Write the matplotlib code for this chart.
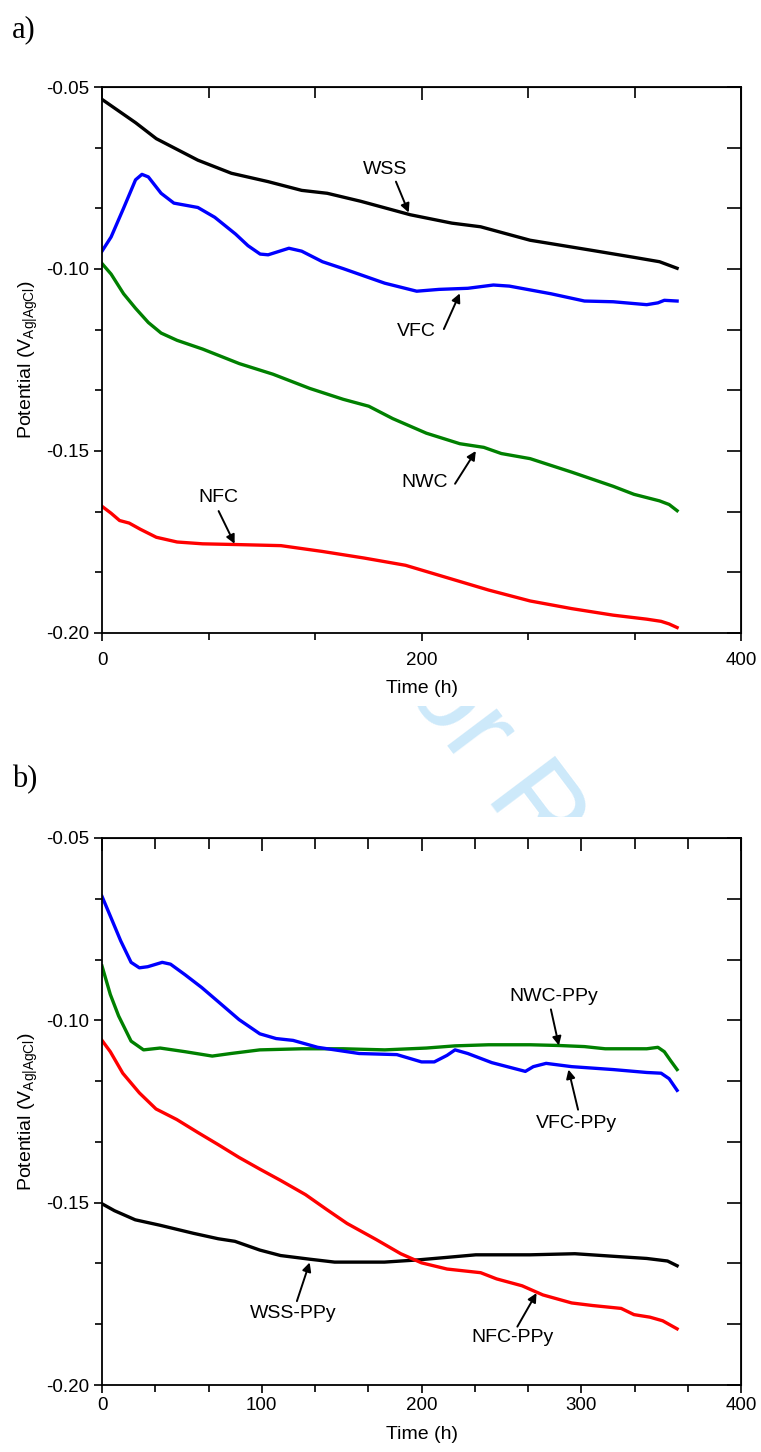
import matplotlib
matplotlib.use("Agg")
import matplotlib.pyplot as plt
from matplotlib.ticker import MultipleLocator, AutoMinorLocator, FormatStrFormatter
from matplotlib.transforms import Bbox, TransformedBbox

plt.rcParams['font.family'] = ['Liberation Sans', 'DejaVu Sans']
plt.rcParams['mathtext.default'] = 'regular'
plt.rcParams['axes.unicode_minus'] = False

# ---- panel a) data (time in h, potential in V vs Ag|AgCl)
wss_t = [0, 21, 34, 60, 81, 104, 125, 141, 162, 193, 219, 237, 268, 307, 333, 349, 360]
wss_v = [-0.0534, -0.0598, -0.0642, -0.0701, -0.0737, -0.0760, -0.0784, -0.0792, -0.0814,
         -0.0851, -0.0874, -0.0884, -0.0921, -0.0949, -0.0968, -0.0980, -0.0998]

vfc_t = [0, 5.7, 13.5, 21, 25, 29, 37, 45, 52.5, 60, 70.6, 83.6, 91.4, 99, 104, 117, 125, 138,
         151, 177, 197, 211, 229, 245, 255, 281, 302, 320, 341, 348, 352, 360]
vfc_v = [-0.0951, -0.0912, -0.0833, -0.0755, -0.0740, -0.0747, -0.0792, -0.0819, -0.0825,
         -0.0831, -0.0858, -0.0904, -0.0936, -0.0959, -0.0961, -0.0943, -0.0951, -0.0980,
         -0.0999, -0.1039, -0.1061, -0.1056, -0.1053, -0.1044, -0.1047, -0.1068, -0.1088,
         -0.1090, -0.1098, -0.1093, -0.1086, -0.1088]

nwc_t = [0, 5.7, 13.5, 21, 29, 37, 47, 63, 86, 107, 130, 151, 167, 182, 203, 224, 239, 250,
         268, 294, 320, 333, 349, 355, 360]
nwc_v = [-0.0985, -0.1014, -0.1068, -0.1108, -0.1147, -0.1176, -0.1196, -0.1220, -0.1260,
         -0.1289, -0.1328, -0.1358, -0.1377, -0.1411, -0.1451, -0.1480, -0.1490, -0.1507,
         -0.1521, -0.1558, -0.1597, -0.1619, -0.1637, -0.1647, -0.1664]

nfc_t = [0, 5.7, 11, 17, 24, 34, 47, 63, 84, 112, 138, 164, 190, 216, 242, 268, 294, 320,
         341, 350, 355, 360]
nfc_v = [-0.1652, -0.1671, -0.1691, -0.1698, -0.1715, -0.1737, -0.1750, -0.1755, -0.1757,
         -0.1760, -0.1776, -0.1794, -0.1814, -0.1848, -0.1882, -0.1912, -0.1933, -0.1951,
         -0.1962, -0.1968, -0.1975, -0.1985]

# ---- panel b) data (PPy coated)
vfcp_t = [0, 5.2, 11.7, 18.2, 23.4, 28.6, 37.7, 42.9, 52, 62.4, 72.8, 85.8, 98.8, 109, 119.6,
          135, 161, 184.6, 200, 208, 216, 221, 229, 244, 265, 270, 278, 294, 320, 341, 350,
          355, 360]
vfcp_v = [-0.0660, -0.0714, -0.0782, -0.0841, -0.0856, -0.0853, -0.0841, -0.0846, -0.0875,
          -0.0910, -0.0949, -0.0998, -0.1037, -0.1050, -0.1055, -0.1074, -0.1091, -0.1094,
          -0.1114, -0.1114, -0.1096, -0.1081, -0.1091, -0.1116, -0.1140, -0.1127, -0.1118,
          -0.1127, -0.1135, -0.1143, -0.1145, -0.1160, -0.1192]

nwcp_t = [0, 5.2, 10.4, 18.2, 26, 36.4, 52, 69, 80.6, 98.8, 125, 151, 177, 203, 221, 242,
          268, 286, 302, 315, 341, 348, 352, 356, 360]
nwcp_v = [-0.0851, -0.0929, -0.0988, -0.1057, -0.1081, -0.1076, -0.1086, -0.1098, -0.1091,
          -0.1081, -0.1078, -0.1078, -0.1081, -0.1076, -0.1070, -0.1067, -0.1067, -0.1069,
          -0.1072, -0.1078, -0.1078, -0.1074, -0.1086, -0.1111, -0.1135]

nfcp_t = [0, 5.2, 13, 23.4, 33.8, 46.8, 59.8, 72.8, 85.8, 98.8, 111.8, 127.4, 140.4, 153.4,
          171.6, 187, 200, 216, 237, 247, 263, 276, 294, 307, 325, 333, 343, 351, 360]
nfcp_v = [-0.1055, -0.1086, -0.1145, -0.1199, -0.1243, -0.1272, -0.1307, -0.1341, -0.1376,
          -0.1408, -0.1439, -0.1478, -0.1518, -0.1557, -0.1601, -0.1640, -0.1665, -0.1682,
          -0.1692, -0.1709, -0.1728, -0.1753, -0.1775, -0.1782, -0.1790, -0.1807, -0.1814,
          -0.1824, -0.1846]

wssp_t = [0, 7.8, 20.8, 36.4, 57.2, 72.8, 83.2, 98.8, 111.8, 130, 145.6, 176.8, 197.6, 216,
          234, 268, 296, 320, 341, 354, 360]
wssp_v = [-0.1503, -0.1522, -0.1547, -0.1562, -0.1584, -0.1599, -0.1606, -0.1630, -0.1645,
          -0.1655, -0.1663, -0.1663, -0.1657, -0.1650, -0.1643, -0.1643, -0.1640, -0.1647,
          -0.1653, -0.1660, -0.1673]

# labels: text, text position, arrow tail, arrow tip
labels_a = [
    ('WSS', (177, -0.0726), (184, -0.0760), (192, -0.0845)),
    ('VFC', (197, -0.1172), (214, -0.1165), (224, -0.1067)),
    ('NWC', (202, -0.1586), (221, -0.1590), (234, -0.1500)),
    ('NFC', (73, -0.1627), (73, -0.1665), (83, -0.1755)),
]
labels_b = [
    ('NWC-PPy', (283, -0.0934), (281, -0.0970), (286, -0.1069)),
    ('VFC-PPy', (297, -0.1282), (298, -0.1245), (292, -0.1135)),
    ('WSS-PPy', (120, -0.1804), (122, -0.1770), (130, -0.1664)),
    ('NFC-PPy', (257, -0.1871), (260, -0.1840), (272, -0.1748)),
]

fig = plt.figure(figsize=(7.61, 14.52), dpi=100)

# watermark, only visible in the gap between the two panels
wm = fig.text(360 / 761, 1 - 630 / 1452, 'For Review', fontsize=84, color='#cde9fa',
              rotation=-53, rotation_mode='anchor', ha='left', va='baseline', zorder=0,
              clip_on=True)
wm.set_clip_box(TransformedBbox(Bbox.from_extents(0, 1 - 817 / 1452, 1, 1 - 706 / 1452),
                                fig.transFigure))


def setup_axes(ax, xmajor, xpad, xlabelpad):
    ax.set_xlim(0, 400)
    ax.set_ylim(-0.20, -0.05)
    ax.xaxis.set_major_locator(MultipleLocator(xmajor))
    ax.xaxis.set_minor_locator(AutoMinorLocator(3))
    ax.yaxis.set_major_locator(MultipleLocator(0.05))
    ax.yaxis.set_minor_locator(AutoMinorLocator(3))
    ax.yaxis.set_major_formatter(FormatStrFormatter('%.2f'))
    ax.tick_params(which='both', direction='out', width=1.2, labelsize=13.5)
    ax.tick_params(which='major', length=6)
    ax.tick_params(which='minor', length=5)
    ax.tick_params(axis='x', pad=xpad)
    for s in ax.spines.values():
        s.set_linewidth(1.3)
    top = ax.secondary_xaxis('top')
    top.xaxis.set_major_locator(MultipleLocator(xmajor))
    top.xaxis.set_minor_locator(AutoMinorLocator(3))
    top.tick_params(which='both', direction='in', width=1.2, labeltop=False)
    top.tick_params(which='major', length=9)
    top.tick_params(which='minor', length=8)
    right = ax.secondary_yaxis('right')
    right.yaxis.set_major_locator(MultipleLocator(0.05))
    right.yaxis.set_minor_locator(AutoMinorLocator(3))
    right.tick_params(which='both', direction='in', width=1.2, labelright=False)
    right.tick_params(which='major', length=10)
    right.tick_params(which='minor', length=10)
    ax.set_xlabel('Time (h)', fontsize=14, labelpad=xlabelpad)
    ax.set_ylabel('Potential (V$_{Ag|AgCl}$)', fontsize=14, labelpad=4)


def add_labels(ax, labels):
    for txt, pos, tail, tip in labels:
        ax.text(pos[0], pos[1], txt, fontsize=14, ha='center', va='center')
        ax.annotate('', xy=tip, xytext=tail,
                    arrowprops=dict(arrowstyle='-|>', color='black', lw=1.4,
                                    mutation_scale=13, shrinkA=0, shrinkB=0))


ax1 = fig.add_axes([102 / 761, 1 - 633 / 1452, 639 / 761, 546 / 1452])
ax1.plot(wss_t, wss_v, color='black', lw=2.4)
ax1.plot(vfc_t, vfc_v, color='#0000ff', lw=2.4)
ax1.plot(nwc_t, nwc_v, color='#008000', lw=2.4)
ax1.plot(nfc_t, nfc_v, color='#ff0000', lw=2.4)
setup_axes(ax1, 200, 7.5, 8)
add_labels(ax1, labels_a)

ax2 = fig.add_axes([102 / 761, 1 - 1385 / 1452, 639 / 761, 547 / 1452])
ax2.plot(wssp_t, wssp_v, color='black', lw=2.4)
ax2.plot(nfcp_t, nfcp_v, color='#ff0000', lw=2.4)
ax2.plot(nwcp_t, nwcp_v, color='#008000', lw=2.4)
ax2.plot(vfcp_t, vfcp_v, color='#0000ff', lw=2.4)
setup_axes(ax2, 100, 3, 8)
add_labels(ax2, labels_b)

fig.text(12 / 761, 1 - 30 / 1452, 'a)', family='Liberation Serif', fontsize=22,
         ha='left', va='center')
fig.text(12 / 761, 1 - 780 / 1452, 'b)', family='Liberation Serif', fontsize=22,
         ha='left', va='center')

fig.savefig('out.png', dpi=100)
